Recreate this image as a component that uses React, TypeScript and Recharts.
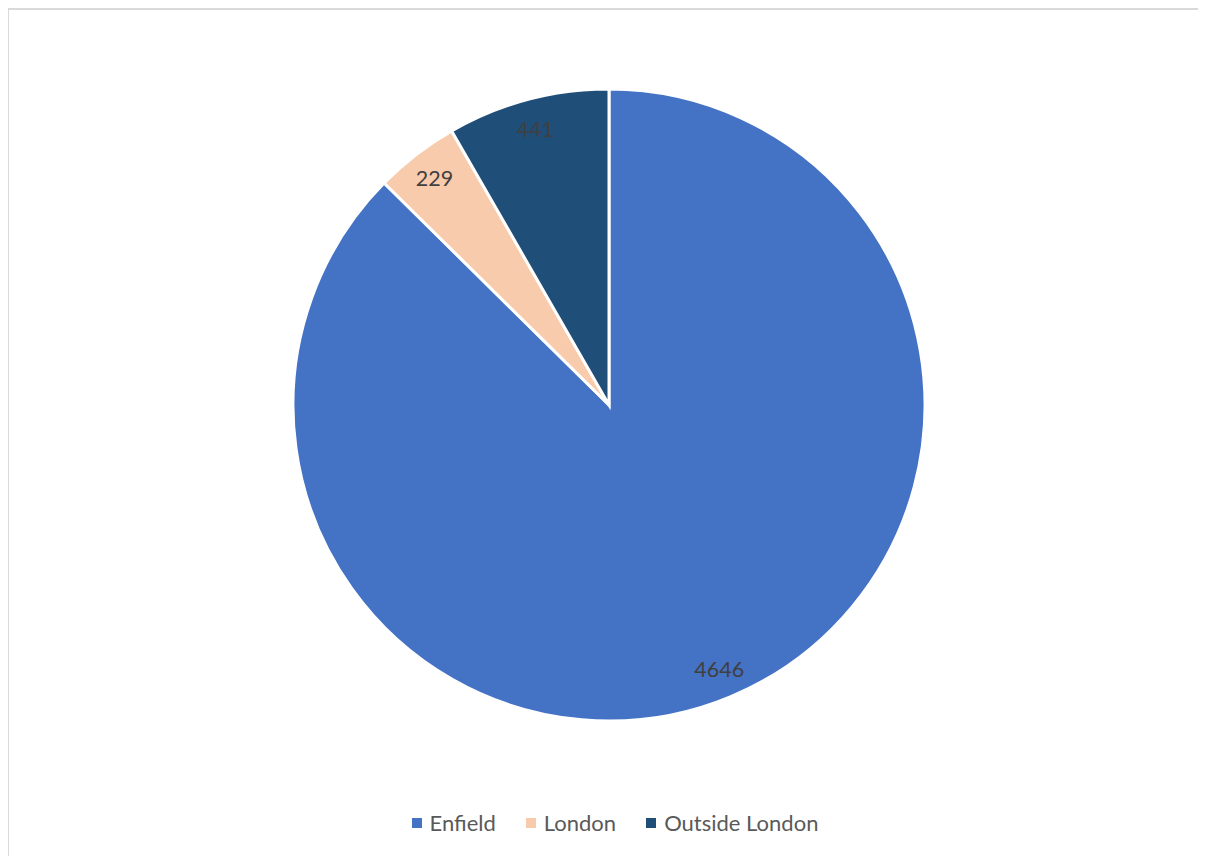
import { Cell, Legend, Pie, PieChart } from 'recharts'

const categories = ['Enfield', 'London', 'Outside London']
const counts = [4646, 229, 441]
const colors = ['#4472C4', '#F8CBAD', '#1F4E79']

const data = categories.map((name, i) => ({ name, value: counts[i] }))

const FONT = 'Lato, "Liberation Sans", sans-serif'
const RAD = Math.PI / 180

function SliceLabel({ cx, cy, midAngle, outerRadius, value }: any) {
  const r = outerRadius * 0.905
  const x = cx + r * Math.cos(-midAngle * RAD)
  const y = cy + r * Math.sin(-midAngle * RAD)
  return (
    <text x={x} y={y} fill="#404040" fontSize={21.5} fontFamily={FONT} textAnchor="middle" dominantBaseline="central">
      {value}
    </text>
  )
}

function LegendBox() {
  return (
    <div style={{ display: 'flex', justifyContent: 'center', gap: 30, fontFamily: FONT, fontSize: 22, color: '#595959', paddingLeft: 14 }}>
      {categories.map((name, i) => (
        <div key={name} style={{ display: 'flex', alignItems: 'center' }}>
          <span style={{ width: 10, height: 10, background: colors[i], marginRight: 8, display: 'inline-block' }} />
          <span>{name}</span>
        </div>
      ))}
    </div>
  )
}

export default function App() {
  return (
    <div style={{ marginLeft: -1, borderLeft: '2px solid #d9d9d9', borderTop: '2px solid #d9d9d9', width: 1200, height: 848, background: '#fff' }}>
      <PieChart width={1198} height={846} margin={{ top: 0, right: 0, bottom: 0, left: 0 }}>
        <Pie
          data={data}
          dataKey="value"
          nameKey="name"
          cx={600}
          cy={395}
          outerRadius={316}
          startAngle={90}
          endAngle={-270}
          stroke="#ffffff"
          strokeWidth={3}
          label={SliceLabel}
          labelLine={false}
          isAnimationActive={false}
        >
          {data.map((d, i) => <Cell key={d.name} fill={colors[i]} />)}
        </Pie>
        <Legend verticalAlign="bottom" wrapperStyle={{ bottom: 20 }} content={() => <LegendBox />} />
      </PieChart>
    </div>
  )
}
